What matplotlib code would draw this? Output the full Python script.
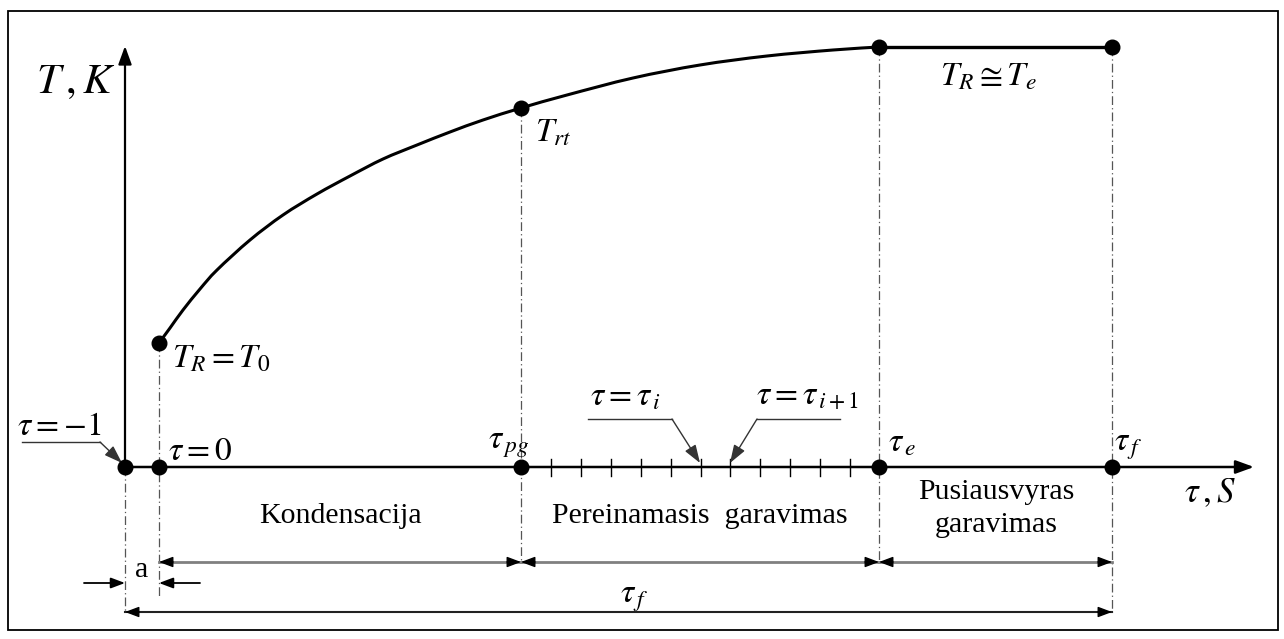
import matplotlib.pyplot as plt
from matplotlib.patches import Rectangle, PathPatch
from matplotlib.path import Path

plt.rcParams['mathtext.fontset'] = 'stix'
plt.rcParams['font.family'] = ['Liberation Serif', 'DejaVu Serif']

# diagram coordinates (x to the right, y downwards)
axis_y = 467
axis_x = 125

# characteristic moments on the time axis: tau=-1, tau=0, tau_pg, tau_e, tau_f
tau_x = [125, 159, 521, 879, 1112]

# temperature curve T_R(tau) from tau=0 up to tau_e
curve_x = [159, 170, 183, 200, 217, 250, 283, 317, 350, 383, 417, 450, 483,
           521, 567, 633, 700, 767, 833, 879]
curve_y = [343, 328, 310, 289, 270, 240, 215, 194, 176, 159, 145, 132, 120,
           108, 95, 78, 65, 56, 50, 47]

# equilibrium plateau T_R ~ T_e
plateau_x = [879, 1112]
plateau_y = [47, 47]

# time steps inside the transitional evaporation stage
step_x = [551, 581, 611, 641, 671, 701, 730, 760, 790, 820, 850]

stage_names = ['Kondensacija', 'Pereinamasis  garavimas', 'Pusiausvyras', 'garavimas']

fig = plt.figure(figsize=(12.84, 6.39), dpi=100)
ax = fig.add_axes([0, 0, 1, 1])
ax.set_xlim(0, 1284)
ax.set_ylim(639, 0)
ax.axis('off')

# frame
ax.add_patch(Rectangle((8, 11), 1270, 619, fill=False, lw=1.3, ec='black'))

def arrow(x0, y0, x1, y1, color='black', lw=1.3, style='-|>', hl=0.85, hw=0.32):
    ax.annotate('', xy=(x1, y1), xytext=(x0, y0),
                arrowprops=dict(arrowstyle='%s,head_length=%s,head_width=%s' % (style, hl, hw),
                                color=color, lw=lw, shrinkA=0, shrinkB=0,
                                mutation_scale=10))

def smooth_path(xs, ys):
    # catmull-rom through the points, drawn as cubic bezier segments
    pts = list(zip(xs, ys))
    verts = [pts[0]]
    codes = [Path.MOVETO]
    for i in range(len(pts) - 1):
        p0 = pts[i - 1] if i > 0 else pts[i]
        p1, p2 = pts[i], pts[i + 1]
        p3 = pts[i + 2] if i + 2 < len(pts) else pts[i + 1]
        c1 = (p1[0] + (p2[0] - p0[0]) / 6, p1[1] + (p2[1] - p0[1]) / 6)
        c2 = (p2[0] - (p3[0] - p1[0]) / 6, p2[1] - (p3[1] - p1[1]) / 6)
        verts += [c1, c2, p2]
        codes += [Path.CURVE4] * 3
    return Path(verts, codes)

# axes with arrows
arrow(axis_x, axis_y, axis_x, 46, lw=1.6, hl=1.1, hw=0.4)
arrow(axis_x, axis_y, 1254, axis_y, lw=1.8, hl=1.1, hw=0.4)

# dash-dot guide lines
dd = (0, (7, 2.5, 1, 2.5))
guides = [(tau_x[0], axis_y, 612), (tau_x[1], curve_y[0], 598),
          (tau_x[2], 108, 562), (tau_x[3], 47, 562), (tau_x[4], 47, 612)]
for gx, g0, g1 in guides:
    ax.plot([gx, gx], [g0, g1], ls=dd, lw=0.9, color='#555555', zorder=1)

# curve, plateau and points
ax.add_patch(PathPatch(smooth_path(curve_x, curve_y), fill=False, ec='black',
                       lw=2.2, zorder=3, capstyle='round'))
ax.plot(plateau_x, plateau_y, color='black', lw=2.4, zorder=3)
ax.plot([curve_x[0], 521, curve_x[-1], plateau_x[-1]],
        [curve_y[0], 108, curve_y[-1], plateau_y[-1]],
        'o', color='black', ms=10.5, zorder=4)
ax.plot(tau_x, [axis_y] * len(tau_x), 'o', color='black', ms=10.5, zorder=4)

# step ticks
for sx in step_x:
    ax.plot([sx, sx], [459, 476], color='black', lw=1.0, zorder=2)

# dimension lines: gray shafts with black heads
def dim(xa, xb, y, color, lw):
    ax.plot([xa, xb], [y, y], color=color, lw=lw, zorder=2)
    arrow(xa + 14, y, xa, y, lw=1.0)
    arrow(xb - 14, y, xb, y, lw=1.0)

dim_gray = '#808080'
dim(tau_x[1], tau_x[2], 562, dim_gray, 2.0)
dim(tau_x[2], tau_x[3], 562, dim_gray, 2.0)
dim(tau_x[3], tau_x[4], 562, dim_gray, 2.0)
dim(tau_x[0], tau_x[4], 612, '#222222', 1.5)
arrow(84, 583, tau_x[0], 583, lw=1.3)
arrow(200, 583, tau_x[1], 583, lw=1.3)

# leader lines
def leader(pts, tip):
    xs = [p[0] for p in pts]
    ys = [p[1] for p in pts]
    ax.plot(xs, ys, color='#333333', lw=1.0)
    arrow(pts[-1][0], pts[-1][1], tip[0], tip[1], color='#333333', lw=1.0, hl=1.1, hw=0.38)

leader([(22, 442), (100, 442)], (122, 463))
leader([(588, 419), (672, 419)], (700, 463))
leader([(840, 419), (757, 419)], (730, 463))

# math labels
m = dict(fontsize=24, va='baseline', ha='left')
ax.text(36, 93, r'$T\,,K$', fontsize=31, va='baseline', ha='left')
ax.text(1184, 502, r'$\tau\,,S$', fontsize=25, va='baseline', ha='left')
ax.text(17, 435, r'$\tau=-1$', **m)
ax.text(168, 460, r'$\tau=0$', **m)
ax.text(488, 449, r'$\tau_{\,pg}$', **m)
ax.text(888, 451, r'$\tau_{\,e}$', **m)
ax.text(1114, 451, r'$\tau_{\,f}$', **m)
ax.text(590, 405, r'$\tau=\tau_{\,i}$', **m)
ax.text(756, 405, r'$\tau=\tau_{\,i+1}$', **m)
ax.text(620, 603, r'$\tau_{\,f}$', **m)
ax.text(535, 142, r'$T_{rt}$', **m)
ax.text(172, 368, r'$T_R=T_0$', **m)
ax.text(940, 85, r'$T_R\cong T_e$', **m)

# stage names
t = dict(fontsize=21.5, ha='center', va='baseline')
ax.text(340, 523, stage_names[0], **t)
ax.text(700, 523, stage_names[1], **t)
ax.text(996, 499, stage_names[2], **t)
ax.text(996, 532, stage_names[3], **t)
ax.text(142, 577, 'a', **t)

fig.savefig('out.png', dpi=100)
